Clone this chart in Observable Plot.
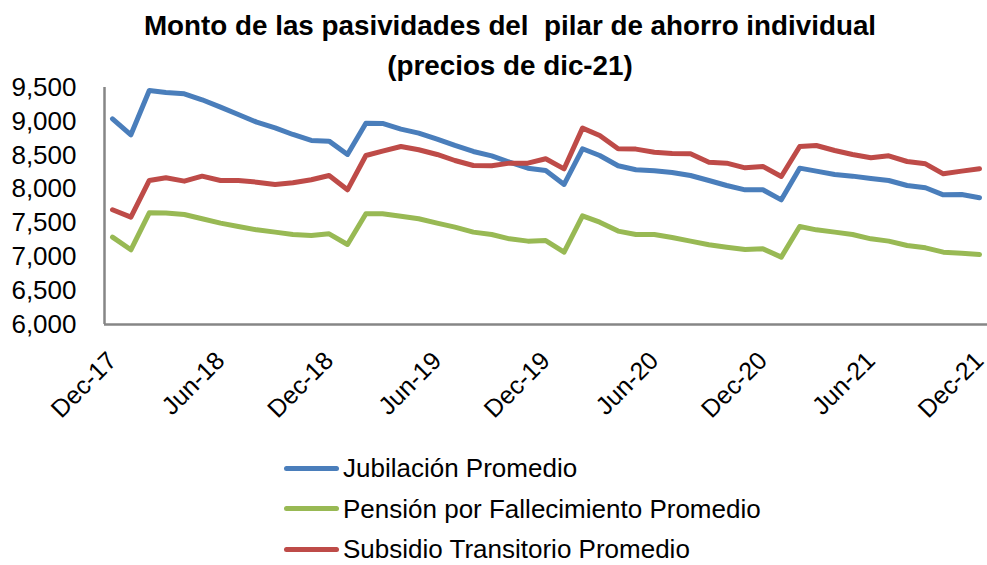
<!DOCTYPE html>
<html>
<head>
<meta charset="utf-8">
<script src="https://cdn.jsdelivr.net/npm/d3@7"></script>
<script src="https://cdn.jsdelivr.net/npm/@observablehq/plot@0.6"></script>
<style>
  html, body { margin: 0; padding: 0; background: #fff; }
  body { width: 987px; height: 565px; overflow: hidden; font-family: "Liberation Sans", Arial, sans-serif; }
  #title { height: 70px; box-sizing: border-box; padding: 6px 0 0 33px; text-align: center; font-weight: bold; font-size: 27.8px; line-height: 40px; white-space: pre; color: #000; overflow: visible; }
  #chart svg { display: block; overflow: visible; }
  #legend { padding-left: 284px; margin-top: -2px; }
  .row { display: flex; align-items: center; height: 40.5px; font-size: 26px; color: #000; }
  .row span.lab { line-height: 24px; }
  .sw { width: 55px; height: 5px; border-radius: 3px; margin-right: 4px; }
</style>
</head>
<body>
<div id="title"></div>
<div id="chart"></div>
<div id="legend"></div>
<script>
const titleLines = ["Monto de las pasividades del  pilar de ahorro individual", "(precios de dic-21)"];

const months = [
  "2017-12",
  "2018-01","2018-02","2018-03","2018-04","2018-05","2018-06","2018-07","2018-08","2018-09","2018-10","2018-11","2018-12",
  "2019-01","2019-02","2019-03","2019-04","2019-05","2019-06","2019-07","2019-08","2019-09","2019-10","2019-11","2019-12",
  "2020-01","2020-02","2020-03","2020-04","2020-05","2020-06","2020-07","2020-08","2020-09","2020-10","2020-11","2020-12",
  "2021-01","2021-02","2021-03","2021-04","2021-05","2021-06","2021-07","2021-08","2021-09","2021-10","2021-11","2021-12"
];

const tickMonths = ["2017-12","2018-06","2018-12","2019-06","2019-12","2020-06","2020-12","2021-06","2021-12"];
const yTicks = [6000, 6500, 7000, 7500, 8000, 8500, 9000, 9500];

const seriesNames = ["Jubilación Promedio", "Pensión por Fallecimiento Promedio", "Subsidio Transitorio Promedio"];
const seriesColors = ["#4a7ebb", "#98b954", "#be4b48"];

const jubilacion = [
  9038, 8802, 9456, 9427, 9407, 9319, 9210, 9102, 8988, 8905, 8806, 8718, 8708,
  8511, 8973, 8970, 8885, 8826, 8737, 8644, 8555, 8491, 8397, 8309, 8275,
  8068, 8595, 8496, 8344, 8285, 8270, 8245, 8200, 8127, 8053, 7989, 7989,
  7841, 8309, 8265, 8216, 8191, 8157, 8127, 8053, 8019, 7915, 7920, 7871
];
const pension = [
  7290, 7103, 7650, 7645, 7625, 7561, 7497, 7448, 7398, 7364, 7329, 7315, 7339,
  7182, 7635, 7635, 7600, 7561, 7497, 7438, 7364, 7329, 7265, 7231, 7240,
  7068, 7605, 7511, 7379, 7329, 7329, 7285, 7231, 7177, 7142, 7108, 7118,
  6995, 7448, 7398, 7364, 7329, 7265, 7231, 7167, 7132, 7068, 7053, 7034
];
const subsidio = [
  7694, 7585, 8127, 8167, 8117, 8191, 8127, 8127, 8102, 8068, 8093, 8137, 8200,
  7989, 8496, 8560, 8629, 8580, 8511, 8422, 8348, 8344, 8383, 8383, 8447,
  8299, 8900, 8792, 8595, 8590, 8545, 8525, 8521, 8397, 8383, 8314, 8334,
  8186, 8629, 8644, 8570, 8511, 8462, 8491, 8407, 8373, 8225, 8265, 8299
];

const parse = d3.utcParse("%Y-%m");
const seriesValues = [jubilacion, pension, subsidio];
const rows = [];
seriesNames.forEach((name, s) => {
  months.forEach((m, i) => rows.push({ date: parse(m), value: seriesValues[s][i], series: name }));
});

document.getElementById("title").textContent = titleLines.join("\n");

const chart = Plot.plot({
  width: 987,
  height: 380,
  marginTop: 17,
  marginBottom: 126,
  marginLeft: 104,
  marginRight: 0,
  style: { fontFamily: "'Liberation Sans', Arial, sans-serif", color: "#000", background: "#fff" },
  x: { type: "utc", domain: [parse(months[0]), parse(months[months.length - 1])], insetLeft: 8, insetRight: 8 },
  y: { domain: [6000, 9500] },
  color: { domain: seriesNames, range: seriesColors },
  marks: [
    Plot.axisY({ ticks: yTicks, tickFormat: d3.format(","), tickSize: 0, tickPadding: 28, fontSize: 26, label: null }),
    Plot.axisX({ ticks: tickMonths.map(parse), tickFormat: d3.utcFormat("%b-%y"), tickRotate: -45, tickSize: 0, tickPadding: 32, fontSize: 25, label: null }),
    Plot.ruleY([6000], { stroke: "#868686", strokeWidth: 2.5 }),
    Plot.ruleX([parse(months[0])], { stroke: "#868686", strokeWidth: 2.5, dx: -8 }),
    Plot.line(rows, { x: "date", y: "value", z: "series", stroke: "series", strokeWidth: 5, strokeLinejoin: "round", strokeLinecap: "round" })
  ]
});
document.getElementById("chart").appendChild(chart);

const legend = document.getElementById("legend");
seriesNames.forEach((name, i) => {
  const row = document.createElement("div");
  row.className = "row";
  const sw = document.createElement("span");
  sw.className = "sw";
  sw.style.background = seriesColors[i];
  const label = document.createElement("span");
  label.className = "lab";
  label.textContent = name;
  row.appendChild(sw);
  row.appendChild(label);
  legend.appendChild(row);
});
</script>
</body>
</html>
